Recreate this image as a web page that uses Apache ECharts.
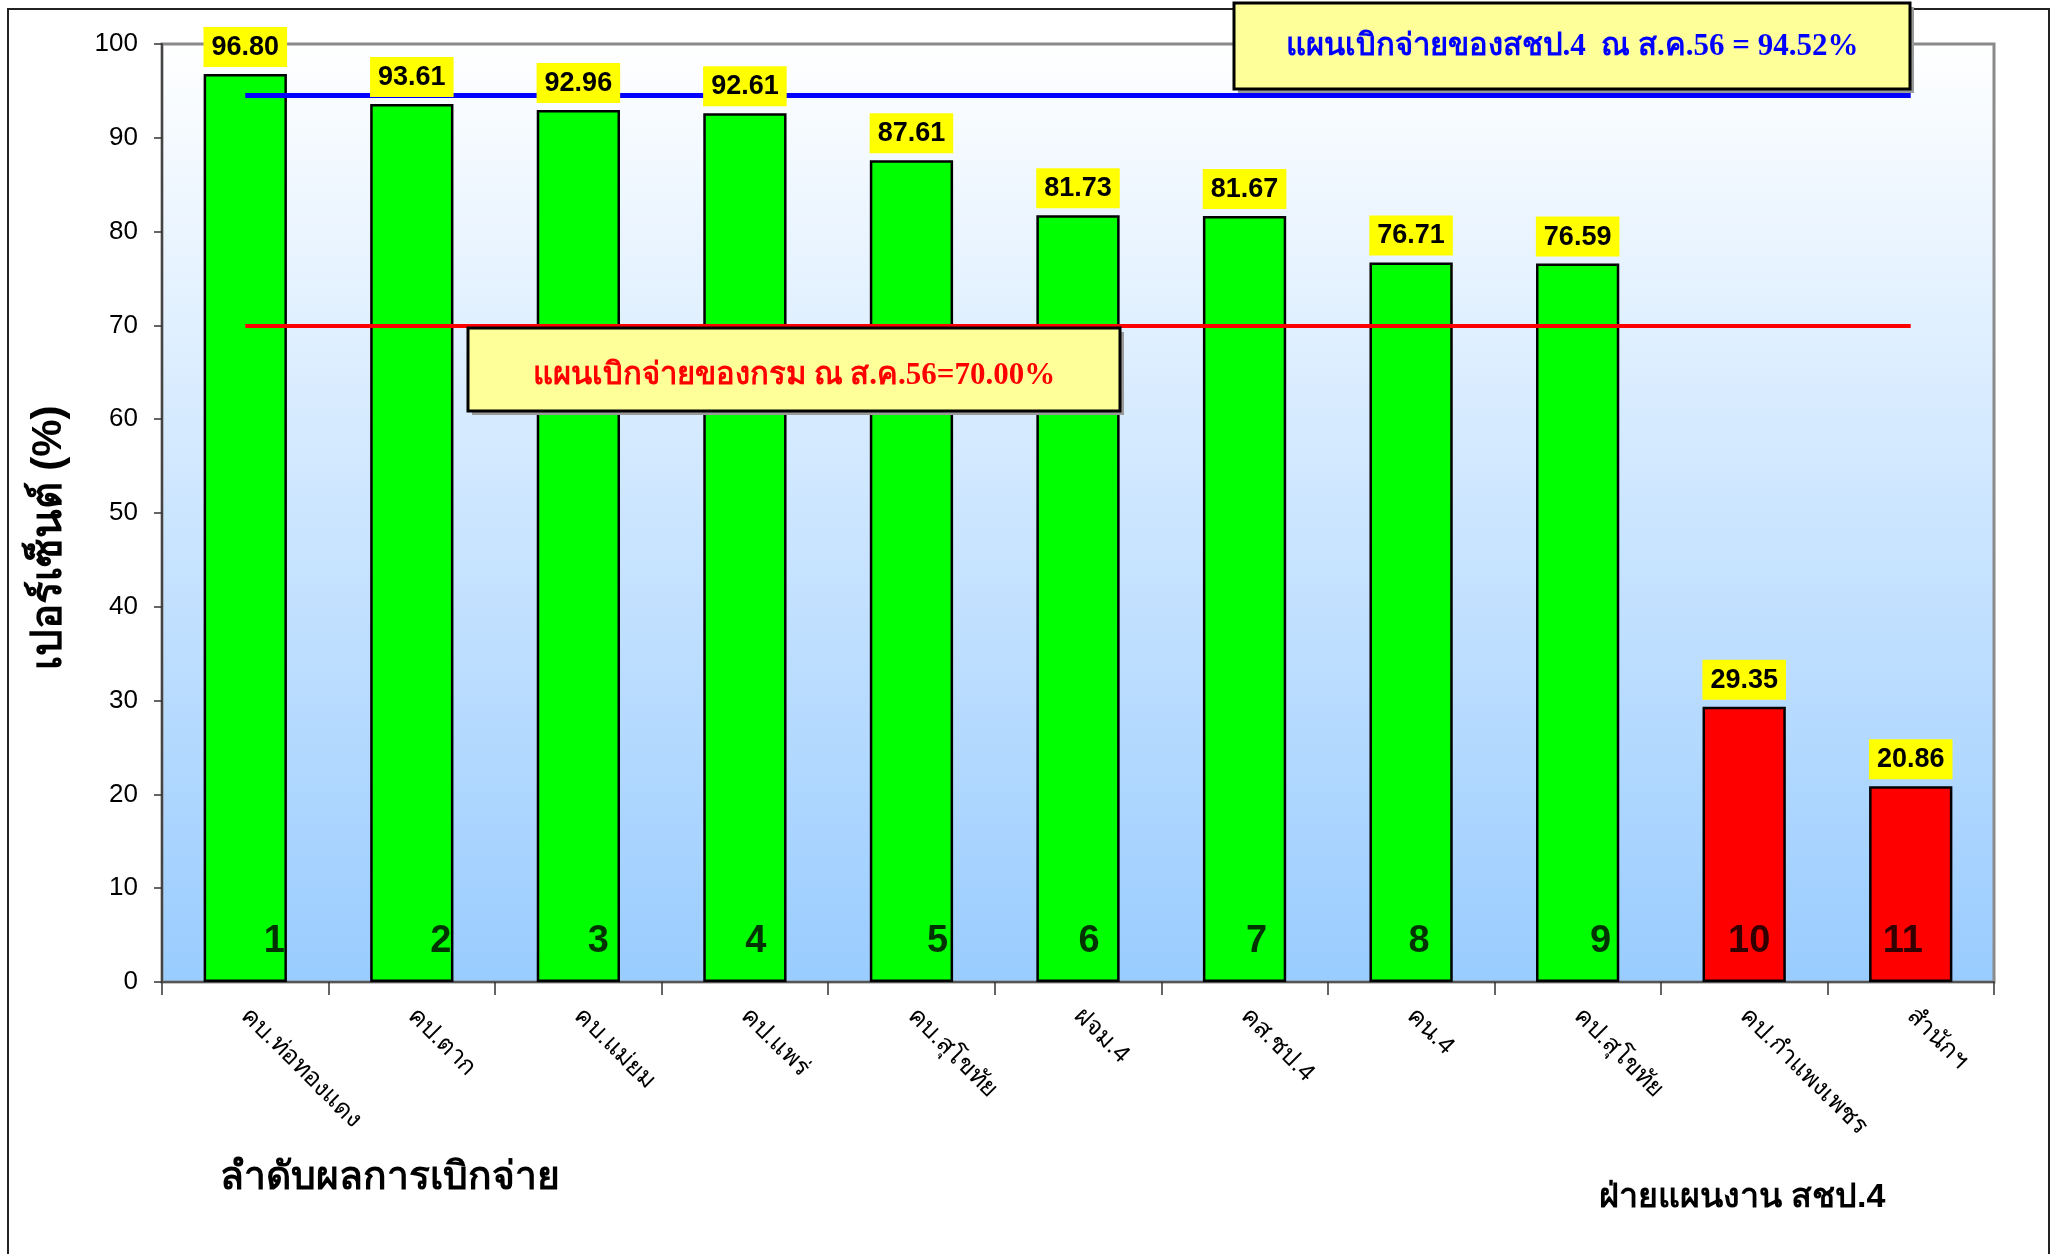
<!DOCTYPE html>
<html>
<head>
<meta charset="utf-8">
<script src="https://cdn.jsdelivr.net/npm/echarts@6/dist/echarts.min.js"></script>
<style>
html,body{margin:0;padding:0;background:#fff;}
#chart{width:2057px;height:1254px;}
</style>
</head>
<body>
<div id="chart"></div>
<script>
// ---- data ----
const categories = ['คบ.ท่อทองแดง','คป.ตาก','คบ.แม่ยม','คป.แพร่','คบ.สุโขทัย','ฝจม.4','คส.ชป.4','คน.4','คป.สุโขทัย','คป.กำแพงเพชร','สำนักฯ'];
const values = [96.80, 93.61, 92.96, 92.61, 87.61, 81.73, 81.67, 76.71, 76.59, 29.35, 20.86];
const ranks = ['1','2','3','4','5','6','7','8','9','10','11'];
const regionPlan = 94.52;   // แผนเบิกจ่ายของสชป.4
const deptPlan = 70.00;     // แผนเบิกจ่ายของกรม
const yTicks = [0,10,20,30,40,50,60,70,80,90,100];
const rankLevel = 4.3;
const regionPlanText = 'แผนเบิกจ่ายของสชป.4  ณ ส.ค.56 = 94.52%';
const deptPlanText = 'แผนเบิกจ่ายของกรม ณ ส.ค.56=70.00%';
const yAxisTitle = 'เปอร์เซ็นต์ (%)';
const xTitleLeft = 'ลำดับผลการเบิกจ่าย';
const xTitleRight = 'ฝ่ายแผนงาน สชป.4';

// ---- styling helpers (not data) ----
const rankDx = [29, 29, 20, 11, 26, 11, 12, 8, 23, 5, -8];
const SANS = "'Liberation Sans', Arial, 'Noto Sans', 'DejaVu Sans', sans-serif";
const SERIF = "'Liberation Serif', 'Times New Roman', 'Noto Serif', 'Noto Sans', serif";

const chart = echarts.init(document.getElementById('chart'), null, {renderer:'canvas'});

const option = {
  animation: false,
  backgroundColor: '#ffffff',
  grid: {
    left: 162, right: 63, top: 44, bottom: 272,
    show: true,
    backgroundColor: new echarts.graphic.LinearGradient(0,0,0,1,[
      {offset:0, color:'#ffffff'},
      {offset:1, color:'#99ccff'}
    ]),
    borderColor: '#8a8a8a',
    borderWidth: 3
  },
  xAxis: {
    type: 'category',
    data: categories,
    axisLine: {show:true, lineStyle:{color:'#555', width:2}},
    axisTick: {show:true, alignWithLabel:false, length:13, lineStyle:{color:'#333', width:1.5}},
    axisLabel: {
      rotate: -45, margin: 30, interval: 0,
      fontSize: 25, color: '#000',
      fontFamily: SANS
    },
    splitLine: {show:false}
  },
  yAxis: {
    type: 'value',
    min: 0, max: 100, interval: 10,
    axisLine: {show:true, lineStyle:{color:'#444', width:2}},
    axisTick: {show:true, length:8, lineStyle:{color:'#333', width:1.5}},
    axisLabel: {
      margin: 24, fontSize: 26, color:'#000', fontFamily: SANS,
      formatter: v => yTicks.includes(v) ? String(v) : ''
    },
    splitLine: {show:false}
  },
  series: [
    {
      type: 'bar',
      data: values.map(v => ({
        value: v,
        itemStyle: {color: v < deptPlan ? '#ff0000' : '#00ff00'}
      })),
      barWidth: '50%',
      itemStyle: {borderColor:'#000', borderWidth:2.5},
      label: {show:false},
      markLine: {
        silent: true,
        symbol: ['none','none'],
        label: {show:false},
        data: [
          [{coord:[categories[0], regionPlan], lineStyle:{color:'#0000ff', width:5, type:'solid'}},
           {coord:[categories[categories.length-1], regionPlan]}],
          [{coord:[categories[0], deptPlan], lineStyle:{color:'#ff0000', width:4, type:'solid'}},
           {coord:[categories[categories.length-1], deptPlan]}]
        ]
      },
      z: 2
    },
    {
      // transparent overlay carrying the value labels, above the plan lines
      type: 'bar',
      silent: true,
      data: values,
      barWidth: '50%',
      barGap: '-100%',
      itemStyle: {color:'rgba(0,0,0,0)'},
      label: {
        show: true,
        position: 'top',
        distance: 7,
        formatter: p => p.value.toFixed(2),
        backgroundColor: '#ffff00',
        padding: [7, 8, 6, 8],
        fontSize: 27, fontWeight: 'bold', color: '#000',
        fontFamily: SANS
      },
      z: 10
    },
    {
      type: 'scatter',
      silent: true,
      symbolSize: 0,
      data: ranks.map((r, i) => ({
        value: [categories[i], rankLevel],
        label: {offset: [rankDx[i], 0]}
      })),
      label: {
        show: true,
        position: 'inside',
        formatter: p => ranks[p.dataIndex],
        fontSize: 38, fontWeight: 'bold', color: '#000',
        fontFamily: SANS
      },
      z: 5
    }
  ],
  graphic: [
    // outer chart border
    {type:'rect', shape:{x:8, y:9, width:2041, height:1270}, style:{fill:'none', stroke:'#222', lineWidth:2}, z:1},
    // region plan box
    {type:'rect', shape:{x:1238, y:7, width:676, height:86}, style:{fill:'#9a9a9a'}, z:20},
    {type:'rect', shape:{x:1234, y:3, width:676, height:86}, style:{fill:'#ffff99', stroke:'#000', lineWidth:3}, z:21},
    {type:'text', x:1572, y:47, style:{text: regionPlanText, fill:'#0000ff', font:"bold 31px " + SERIF, textAlign:'center', textVerticalAlign:'middle'}, z:22},
    // dept plan box
    {type:'rect', shape:{x:472, y:332, width:652, height:83}, style:{fill:'#9a9a9a'}, z:20},
    {type:'rect', shape:{x:468, y:328, width:652, height:83}, style:{fill:'#ffff99', stroke:'#000', lineWidth:3}, z:21},
    {type:'text', x:794, y:376, style:{text: deptPlanText, fill:'#ff0000', font:"bold 31px " + SERIF, textAlign:'center', textVerticalAlign:'middle'}, z:22},
    // y axis title
    {type:'text', x:49, y:538, rotation: Math.PI/2, style:{text: yAxisTitle, fill:'#000', font:"bold 42px " + SANS, textAlign:'center', textVerticalAlign:'middle'}, z:22},
    // x titles
    {type:'text', x:390, y:1178, style:{text: xTitleLeft, fill:'#000', font:"bold 39px " + SANS, textAlign:'center', textVerticalAlign:'middle'}, z:22},
    {type:'text', x:1742, y:1198, style:{text: xTitleRight, fill:'#000', font:"bold 34px " + SANS, textAlign:'center', textVerticalAlign:'middle'}, z:22}
  ]
};
chart.setOption(option);
</script>
</body>
</html>
